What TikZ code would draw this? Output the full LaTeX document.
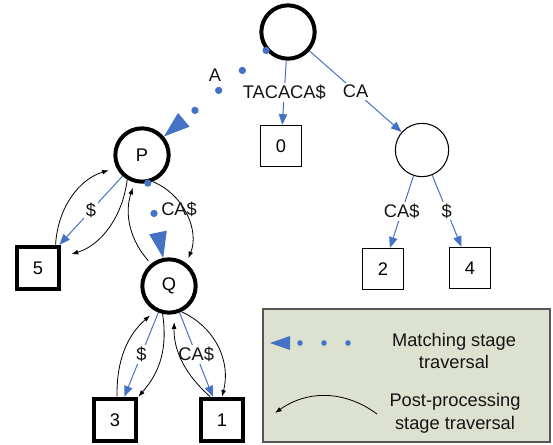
\documentclass[tikz,border=0pt]{standalone}
\usepackage{fontspec}
\setmainfont{Liberation Sans}
\usepackage{tikz}
\usetikzlibrary{arrows.meta}
\definecolor{stblue}{RGB}{68,114,196}
\definecolor{stink}{RGB}{20,20,20}
\definecolor{stleg}{RGB}{221,225,207}
\definecolor{stframe}{RGB}{85,85,85}
\newcommand{\stfont}{\fontsize{13.7}{17}\selectfont}
\tikzset{
  thick node/.style={
    circle, draw=black, line width=3pt, fill=white,
    minimum size=40pt, inner sep=0pt
  },
  thin node/.style={thick node, line width=0.8pt},
  leaf/.style={
    draw=black, line width=0.8pt, fill=white,
    minimum size=31pt, inner sep=0pt
  },
  thick leaf/.style={leaf, line width=3pt, minimum size=32pt},
  tedge/.style={
    -{Triangle[length=8pt,width=6.5pt,line width=0pt]},
    draw=stblue, line width=0.75pt
  },
  lbl/.style={fill=white, inner sep=1.5pt, text=stink},
  match/.style={
    -{Triangle[length=19.5pt,width=13.5pt,line width=0pt]},
    draw=stblue, line width=5.5pt, line cap=round,
    dash pattern=on 0pt off 23.25pt
  },
  legmatch/.style={
    match, line width=4.2pt, dash pattern=on 0pt off 18pt,
    -{Triangle[length=15pt,width=10.5pt,line width=0pt]}
  },
  post/.style={-{Latex[length=5pt,width=3.6pt]}, draw=black, line width=0.6pt},
  legbox/.style={
    draw=stframe, fill=stleg, line width=1.5pt,
    minimum width=215pt, minimum height=100pt
  },
  legtext/.style={align=center, text=stink},
  every picture/.append style={font=\stfont}
}

\begin{document}
\begin{tikzpicture}[x=0.75pt, y=0.75pt]
  \useasboundingbox (0,0) rectangle (553,-444);
  % legend
  \node[legbox] (leg) at (406.5,-375.5) {};
  % tree
  \node[thick node] (root) at (288,-32) {};
  \node[leaf] (b0) at (281,-146) {0};
  \node[thin node] (rc) at (422,-150) {};
  \node[leaf] (b2) at (383,-269) {2};
  \node[leaf] (b4) at (470,-268) {4};
  \node[thick node] (P) at (142,-155) {P};
  \node[thick leaf] (b5) at (38,-268) {5};
  \node[thick node] (Q) at (169,-286) {Q};
  \node[thick leaf] (b3) at (115,-420) {3};
  \node[thick leaf] (b1) at (222,-420) {1};
  \draw[tedge] (root) -- node[lbl] {TACACA\$} (b0);
  \draw[tedge] (root) -- node[lbl] {CA} (rc);
  \draw[tedge] (rc) -- node[lbl] {CA\$} (b2);
  \draw[tedge] (rc) -- node[lbl] {\$} (b4);
  \draw[tedge] (P) -- node[lbl] {\$} (b5);
  \draw[tedge] (Q) -- node[lbl] {\$} (b3);
  \draw[tedge] (Q) -- node[lbl] {CA\$} (b1);
  % post-processing
  \draw[post, shorten >=6pt] (b5.53) to[bend left=35] (P.207);
  \draw[post, shorten >=8pt] (P.239) to[bend left=33] (b5.25);
  \draw[post, shorten >=4pt] (P.292) to[bend left=45] (Q.53);
  \draw[post, shorten >=4pt, shorten <=3pt] (Q.129) to[bend left=30] (P.255);
  \draw[post, shorten >=5pt] (b3.85) to[bend left=25] (Q.241);
  \draw[post] (Q.257) to[bend left=25] (b3.45);
  \draw[post] (Q.296) to[bend left=40] (b1.north);
  \draw[post, shorten >=6pt] (b1.117) to[bend left=25] (Q.281);
  % matching
  \draw[match] (root) -- node[text=stink, yshift=14pt] {A} (P);
  \draw[match] (P) -- node[pos=0.35, right, text=stink] {CA\$} (Q);
  % legend contents
  \coordinate (ms) at (348,-343);
  \coordinate (me) at (270,-343);
  \draw[legmatch] (ms) -- (me);
  \node[legtext] (mtxt) at (454,-351) {Matching stage\\traversal};
  \coordinate (ps) at (377,-414);
  \coordinate (pe) at (275,-413);
  \draw[post] (ps) to[bend right=36] (pe);
  \node[legtext] (ptxt) at (455,-413) {Post-processing\\stage traversal};
\end{tikzpicture}
\end{document}
